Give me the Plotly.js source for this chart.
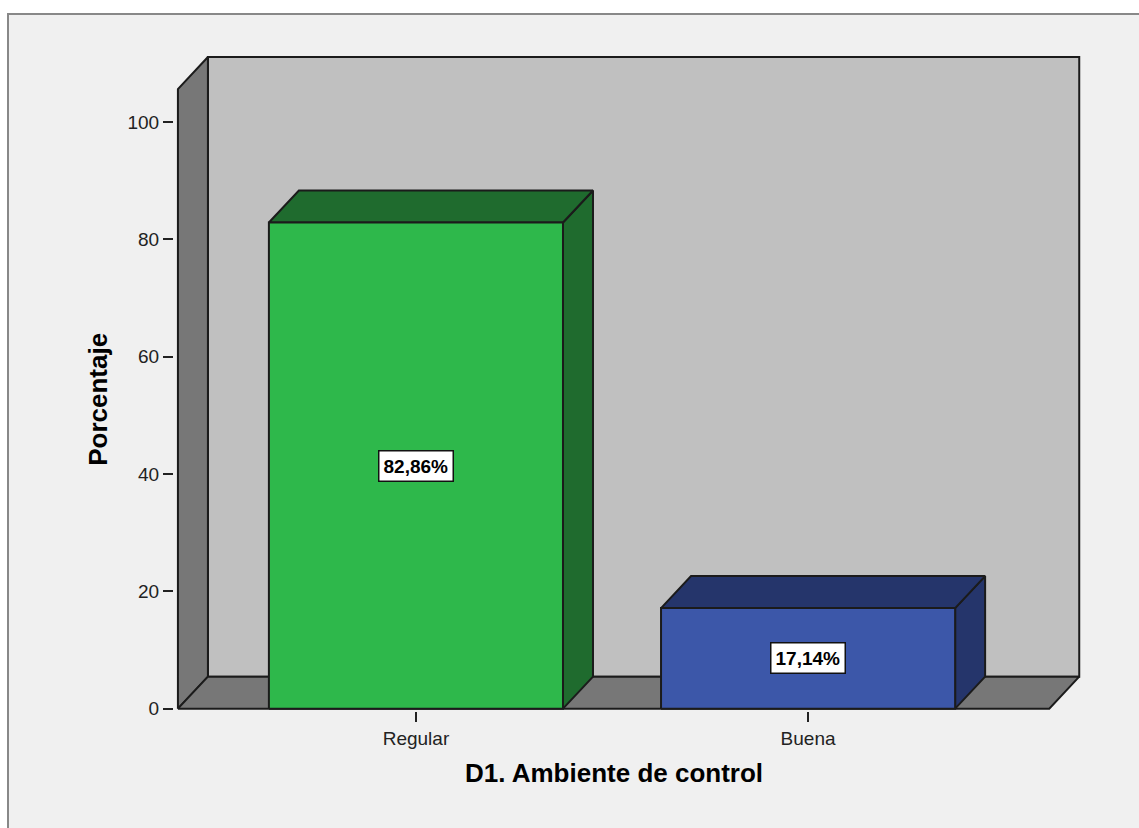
<!DOCTYPE html>
<html>
<head>
<meta charset="utf-8">
<script src="https://cdn.plot.ly/plotly-3.0.1.min.js"></script>
<style>
  html, body { margin: 0; padding: 0; background: #ffffff; width: 1139px; height: 828px; overflow: hidden; }
  #frame { position: absolute; left: 7px; top: 13px; width: 1140px; height: 830px;
           border-left: 2px solid #888888; border-top: 2px solid #888888; background: #f0f0f0; }
  #chart { position: absolute; left: 0; top: 0; width: 1130px; height: 813px; }
</style>
</head>
<body>
<div id="frame"><div id="chart"></div></div>
<script>
// ---- data ----
const categories = ['Regular', 'Buena'];
const percentages = [82.86, 17.14];
const barLabels = ['82,86%', '17,14%'];
const frontColors = ['#2eb84b', '#3c57a9'];
const darkColors = ['#1f6b2e', '#25356b'];
const yTickValues = [0, 20, 40, 60, 80, 100];

// ---- 3D frame geometry (axis units) ----
const X_RANGE = [-0.617, 1.696];
const Y_RANGE = [-0.4, 111.4];
const DX = 0.0765;          // depth offset along x
const DY = 5.45;            // depth offset along y
const WALL_LEFT = -0.607;   // front-left edge of the box
const FLOOR_RIGHT = 1.615;  // front-right edge of the floor
const WALL_TOP = 105.6;     // front top of the left wall
const HALF_W = 0.375;       // half bar width
const EDGE = '#1b1b1b';
const FONT = 'Liberation Sans, Arial, sans-serif';

const toPaperX = x => (x - X_RANGE[0]) / (X_RANGE[1] - X_RANGE[0]);
const toPaperY = y => (y - Y_RANGE[0]) / (Y_RANGE[1] - Y_RANGE[0]);

function poly(xs, ys, fill) {
  return {
    type: 'scatter', mode: 'lines', x: xs.concat([xs[0]]), y: ys.concat([ys[0]]),
    fill: 'toself', fillcolor: fill, line: { color: EDGE, width: 2 },
    hoverinfo: 'skip', showlegend: false
  };
}

const traces = [];
// back wall
traces.push(poly(
  [WALL_LEFT + DX, FLOOR_RIGHT + DX, FLOOR_RIGHT + DX, WALL_LEFT + DX],
  [DY, DY, WALL_TOP + DY, WALL_TOP + DY], '#c0c0c0'));
// left wall
traces.push(poly(
  [WALL_LEFT, WALL_LEFT, WALL_LEFT + DX, WALL_LEFT + DX],
  [0, WALL_TOP, WALL_TOP + DY, DY], '#777777'));
// floor
traces.push(poly(
  [WALL_LEFT, FLOOR_RIGHT, FLOOR_RIGHT + DX, WALL_LEFT + DX],
  [0, 0, DY, DY], '#777777'));

// bars
categories.forEach((c, i) => {
  const v = percentages[i];
  const x0 = i - HALF_W, x1 = i + HALF_W;
  traces.push(poly([x1, x1 + DX, x1 + DX, x1], [0, DY, v + DY, v], darkColors[i]));   // side
  traces.push(poly([x0, x1, x1 + DX, x0 + DX], [v, v, v + DY, v + DY], darkColors[i])); // top
  traces.push(poly([x0, x1, x1, x0], [0, 0, v, v], frontColors[i]));                   // front
});

const annotations = categories.map((c, i) => ({
  x: i, y: percentages[i] / 2, xref: 'x', yref: 'y', text: '<b>' + barLabels[i] + '</b>',
  showarrow: false, bgcolor: '#ffffff', bordercolor: '#111111', borderwidth: 1.5, borderpad: 4,
  font: { family: FONT, size: 19, color: '#000000' }
}));
annotations.push({
  x: toPaperX((WALL_LEFT + FLOOR_RIGHT) / 2), y: toPaperY(-10.9), xref: 'paper', yref: 'paper',
  xanchor: 'center', yanchor: 'middle',
  text: '<b>D1. Ambiente de control</b>', showarrow: false,
  font: { family: FONT, size: 26, color: '#000000' }
});
annotations.push({
  x: toPaperX(-0.811), y: toPaperY(52.8), xref: 'paper', yref: 'paper', textangle: -90,
  xanchor: 'center', yanchor: 'middle',
  text: '<b>Porcentaje</b>', showarrow: false,
  font: { family: FONT, size: 26, color: '#000000' }
});

const layout = {
  width: 1130, height: 813,
  margin: { l: 165, r: 58, t: 40, b: 117, pad: 0 },
  paper_bgcolor: 'rgba(0,0,0,0)', plot_bgcolor: 'rgba(0,0,0,0)',
  showlegend: false,
  xaxis: {
    range: X_RANGE, showgrid: false, zeroline: false, showline: false,
    tickmode: 'array', tickvals: categories.map((c, i) => i), ticktext: categories,
    ticks: 'outside', ticklen: 10, tickwidth: 2, tickcolor: '#222222',
    tickfont: { family: FONT, size: 19, color: '#222222' },
    fixedrange: true
  },
  yaxis: {
    range: Y_RANGE, showgrid: false, zeroline: false, showline: false,
    tickmode: 'array', tickvals: yTickValues, ticktext: yTickValues.map(String),
    ticks: 'outside', ticklen: 10, tickwidth: 2, tickcolor: '#222222',
    tickfont: { family: FONT, size: 19, color: '#222222' },
    fixedrange: true
  },
  annotations: annotations
};

Plotly.newPlot('chart', traces, layout, { displayModeBar: false, staticPlot: true });
</script>
</body>
</html>
